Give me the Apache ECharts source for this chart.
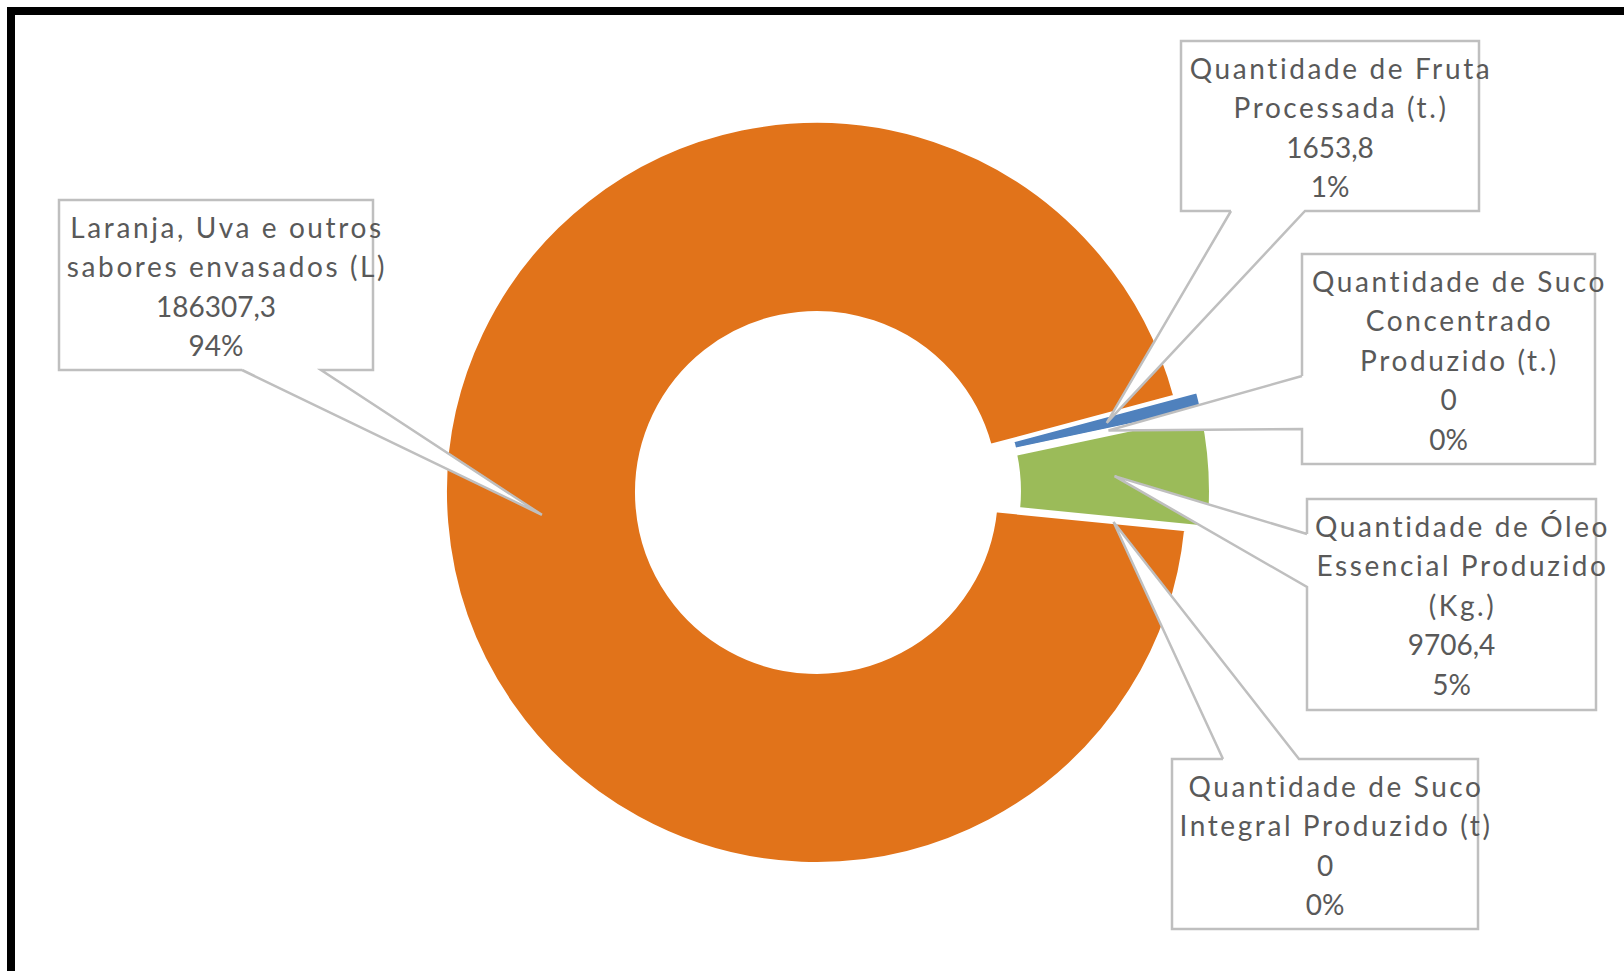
<!DOCTYPE html>
<html>
<head>
<meta charset="utf-8">
<script src="https://cdn.jsdelivr.net/npm/echarts@6/dist/echarts.min.js"></script>
<style>
html,body{margin:0;padding:0;background:#fff;overflow:hidden;}
#frame{position:absolute;left:7px;top:7px;width:1800px;height:1200px;border-left:8px solid #000;border-top:8px solid #000;box-sizing:border-box;}
#chart{position:absolute;left:0;top:0;width:1624px;height:971px;}
#chart text{letter-spacing:2.6px;}
#chart text[style*="sans-serif"]{letter-spacing:0;}
</style>
</head>
<body>
<div id="frame"></div>
<div id="chart"></div>
<script>
// ---- data ----
const categories = [
  'Quantidade de Fruta\nProcessada (t.)',
  'Quantidade de Suco\nConcentrado\nProduzido (t.)',
  'Quantidade de Óleo\nEssencial Produzido\n(Kg.)',
  'Quantidade de Suco\nIntegral Produzido (t)',
  'Laranja, Uva e outros\nsabores envasados (L)'
];
const values = [1653.8, 0, 9706.4, 0, 186307.3];

// ---- style / layout ----
const colors = ['#4F81BD', '#C0504D', '#9BBB59', '#8064A2', '#E1731A'];
const explode = [true, true, true, true, false];
const CX = 816.5, CY = 492.5, R0 = 181.5, R1 = 369.5, START = 15, OFFSET = 23, BORDER = 4;
// callout boxes [x0, y0, x1, y1], wedge side and wedge base positions
const boxes = [
  [1181, 41, 1479, 211],
  [1302, 254, 1595, 464],
  [1307, 499, 1596, 710],
  [1172, 759, 1478, 929],
  [59, 200, 373, 370]
];
const wedgeSide = ['bottom', 'left', 'left', 'top', 'bottom'];
const wedgeBase = [[1231, 1305], [376, 429], [534, 587], [1223, 1299], [242, 321]];
const TEXT_PAD = 7;

const total = values.reduce((a, b) => a + b, 0);
const midAngles = [];
(function () {
  let acc = 0;
  values.forEach(v => { midAngles.push(START - (acc + v / 2) / total * 360); acc += v; });
})();

function fmtNum(v) { return String(v).replace('.', ','); }

function calloutPoints(i) {
  const a = midAngles[i] * Math.PI / 180;
  const rm = (R0 + R1) / 2 + (explode[i] ? OFFSET : 0);
  const P = [CX + rm * Math.cos(a), CY - rm * Math.sin(a)];
  const [x0, y0, x1, y1] = boxes[i];
  const [w0, w1] = wedgeBase[i];
  if (wedgeSide[i] === 'bottom') {
    return [[w0, y1], P, [w1, y1], [x1, y1], [x1, y0], [x0, y0], [x0, y1], [w0, y1]];
  } else if (wedgeSide[i] === 'left') {
    return [[x0, w0], P, [x0, w1], [x0, y1], [x1, y1], [x1, y0], [x0, y0], [x0, w0]];
  } else {
    return [[w0, y0], P, [w1, y0], [x1, y0], [x1, y1], [x0, y1], [x0, y0], [w0, y0]];
  }
}

const chart = echarts.init(document.getElementById('chart'), null, { renderer: 'svg' });
const textBase = { color: '#595959', fontSize: 28, lineHeight: 39.5 };
const common = {
  type: 'pie',
  center: [CX, CY],
  startAngle: START,
  clockwise: true,
  avoidLabelOverlap: false,
  emphasis: { disabled: true },
  silent: true
};
chart.setOption({
  backgroundColor: 'transparent',
  animation: false,
  // white fill of the callout shapes (outline drawn by the label lines)
  graphic: boxes.map((b, i) => ({
    type: 'polygon',
    silent: true,
    z: 3,
    shape: { points: calloutPoints(i) },
    style: { fill: '#ffffff', stroke: null }
  })),
  series: [
    Object.assign({}, common, {
      z: 2,
      radius: [R0 - BORDER / 2, R1 + BORDER / 2],
      selectedMode: 'multiple',
      selectedOffset: OFFSET,
      data: values.map((v, i) => ({
        name: categories[i],
        value: v,
        selected: explode[i],
        itemStyle: { color: colors[i], borderColor: '#ffffff', borderWidth: BORDER }
      })),
      label: { show: false },
      labelLine: { show: false }
    }),
    Object.assign({}, common, {
      z: 5,
      radius: [R0, R1],
      data: values.map((v, i) => ({
        name: categories[i],
        value: v,
        itemStyle: { color: 'rgba(0,0,0,0)' }
      })),
      label: {
        show: true,
        position: 'outside',
        formatter: function (p) {
          const lines = p.name.split('\n').map(s => '{n|' + s + '}');
          const pct = Math.round(p.value / total * 100) + '%';
          lines.push('{v|' + fmtNum(p.value) + '}');
          lines.push('{v|' + pct + '}');
          return lines.join('\n');
        },
        rich: {
          n: Object.assign({ fontFamily: 'Lato', padding: [0, 0, 0, 22] }, textBase),
          v: Object.assign({ fontFamily: 'Lato, sans-serif' }, textBase)
        }
      },
      labelLine: {
        show: true,
        showAbove: true,
        lineStyle: { color: '#BFBFBF', width: 2.5 }
      },
      labelLayout: function (params) {
        const i = params.dataIndex;
        const b = boxes[i];
        return {
          x: (b[0] + b[2]) / 2,
          y: b[1] + TEXT_PAD,
          align: 'center',
          verticalAlign: 'top',
          labelLinePoints: calloutPoints(i)
        };
      }
    })
  ]
});
</script>
</body>
</html>
